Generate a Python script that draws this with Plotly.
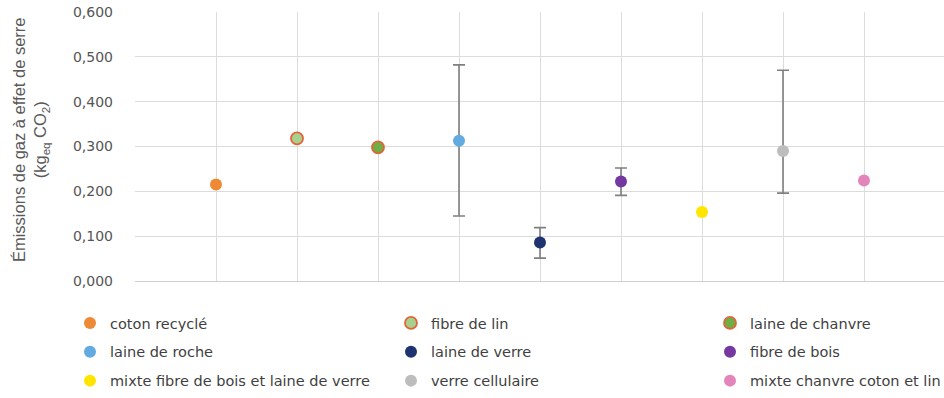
import plotly.graph_objects as go

# Isolants et émissions de GES (kg eq CO2)
materials = [
    "coton recyclé", "fibre de lin", "laine de chanvre",
    "laine de roche", "laine de verre", "fibre de bois",
    "mixte fibre de bois et laine de verre", "verre cellulaire",
    "mixte chanvre coton et lin",
]
emissions = [0.215, 0.318, 0.298, 0.313, 0.086, 0.222, 0.154, 0.290, 0.224]
range_low = [None, None, None, 0.145, 0.051, 0.191, None, 0.196, None]
range_high = [None, None, None, 0.482, 0.119, 0.252, None, 0.470, None]
fill_colors = ["#EE8A35", "#A9D18E", "#6DAE45", "#62AADF", "#1E3370",
               "#7438A0", "#FFE500", "#BDBDBD", "#E385BA"]
edge_colors = ["#EE8A35", "#E2643A", "#E2643A", "#62AADF", "#1E3370",
               "#7438A0", "#FFE500", "#BDBDBD", "#E385BA"]
legend_columns = ["legend", "legend2", "legend3"]
y_title = "Émissions de gaz à effet de serre<br>(kg<sub>eq</sub> CO<sub>2</sub>)"

fig = go.Figure()
for i, name in enumerate(materials):
    x = i + 1
    err = None
    if range_low[i] is not None:
        err = dict(
            type="data", symmetric=False,
            array=[range_high[i] - emissions[i]],
            arrayminus=[emissions[i] - range_low[i]],
            color="#7F7F7F", thickness=1.6, width=6,
        )
    outlined = edge_colors[i] != fill_colors[i]
    fig.add_trace(go.Scatter(
        x=[x], y=[emissions[i]], mode="markers", name=name,
        marker=dict(size=12, color=fill_colors[i],
                    line=dict(color=edge_colors[i], width=1.8 if outlined else 0)),
        error_y=err,
        legend=legend_columns[i % 3],
        legendgroup=name,
    ))

legend_font = dict(family="DejaVu Sans", size=14.5, color="#3F3F3F")
legend_common = dict(
    orientation="v", xref="container", yref="container",
    xanchor="left", yanchor="top", y=1 - 307 / 398,
    font=legend_font, tracegroupgap=7, bgcolor="rgba(0,0,0,0)",
    itemclick=False, itemdoubleclick=False,
)

fig.update_layout(
    width=944, height=398,
    margin=dict(l=135, r=0, t=12, b=117, autoexpand=False),
    paper_bgcolor="white", plot_bgcolor="white",
    separators=", ",
    showlegend=True,
    legend=dict(x=70 / 944, **legend_common),
    legend2=dict(x=391 / 944, **legend_common),
    legend3=dict(x=710 / 944, **legend_common),
    xaxis=dict(
        range=[0, 809 / 81], tickmode="linear", tick0=0, dtick=1,
        showticklabels=False, showgrid=True, gridcolor="#DCDCDC", gridwidth=1.3,
        zeroline=False, showline=False,
    ),
    yaxis=dict(
        range=[0, 0.6], tickmode="linear", tick0=0, dtick=0.1,
        tickformat=".3f", showgrid=True, gridcolor="#DCDCDC", gridwidth=1.3,
        zeroline=True, zerolinecolor="#D0D0D0", zerolinewidth=1.3,
        showline=False, ticklabelstandoff=21,
        tickfont=dict(family="DejaVu Sans", size=14, color="#555555"),
    ),
    annotations=[dict(
        text=y_title, textangle=-90, showarrow=False,
        xref="paper", yref="paper", x=(31 - 135) / 809, y=0.524,
        xanchor="center", yanchor="middle",
        font=dict(family="Liberation Sans", size=16.5, color="#595959"),
    )],
)

fig.write_html("out.html")
